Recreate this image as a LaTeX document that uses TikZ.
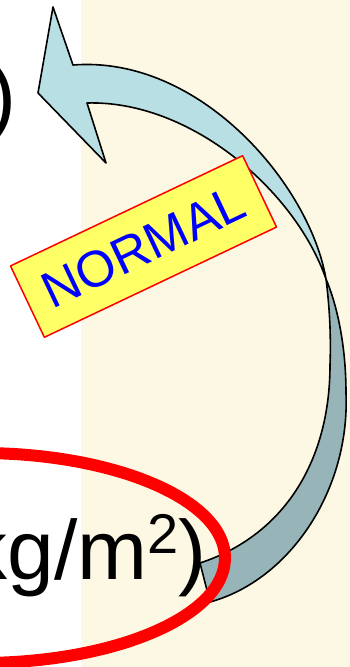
\documentclass[tikz,border=0pt]{standalone}
\usepackage{fontspec}
\setmainfont{Liberation Sans}
\definecolor{slidebg}{RGB}{253,248,227}
\definecolor{arrowlight}{RGB}{184,223,227}
\definecolor{arrowdark}{RGB}{151,180,184}
\definecolor{notebox}{RGB}{255,255,102}
\begin{document}
\begin{tikzpicture}[x=1pt,y=-1pt,line join=round]
	\tikzset{bigtext/.style={font=\fontsize{84}{96}\selectfont,inner sep=0pt},
		arrowline/.style={draw=black,line width=1.6pt}}
	\useasboundingbox (0,0) rectangle (350,667);
	\clip (0,0) rectangle (350,667);
	\fill[white] (0,0) rectangle (81,667);
	\fill[slidebg] (81,0) rectangle (350,667);
	% cut-off slide text
	\node[bigtext,anchor=base east] (paren) at (17,124) {)};
	\node[bigtext,anchor=base east] (unit) at (207,579) {kg/m\raisebox{26pt}{\fontsize{56}{60}\selectfont 2})};
	% curved arrow
	\coordinate (tip) at (38,93);
	\coordinate (barbtop) at (53,7);
	\coordinate (barbbot) at (106,163);
	\coordinate (outerjoin) at (73,65);
	\coordinate (innerjoin) at (87,103);
	\coordinate (cross) at (326,279);
	\coordinate (tailin) at (200,563);
	\coordinate (tailout) at (210,602);
	\filldraw[arrowline,fill=arrowdark] (cross) .. controls (330,310) and (331,340) .. (330,365)
		.. controls (330,460) and (285,535) .. (tailin) -- (tailout)
		.. controls (290,580) and (350,490) .. (346,393)
		.. controls (346,340) and (335,300) .. (cross) -- cycle;
	\filldraw[arrowline,fill=arrowlight] (innerjoin) .. controls (190,100) and (295,190) .. (cross)
		.. controls (310,185) and (200,55) .. (outerjoin)
		-- (barbtop) -- (tip) -- (barbbot) -- cycle;
	% label
	\node[draw=red,fill=notebox,line width=1.5pt,rotate=25.4,minimum width=257pt,minimum height=79pt,
		inner sep=0pt,text=blue,font=\fontsize{51}{56}\selectfont] (normal) at (143.5,246.5) {NORMAL};
	% highlight
	\draw[red,line width=12pt] (-20,558) ellipse [x radius=245,y radius=105];
\end{tikzpicture}
\end{document}
